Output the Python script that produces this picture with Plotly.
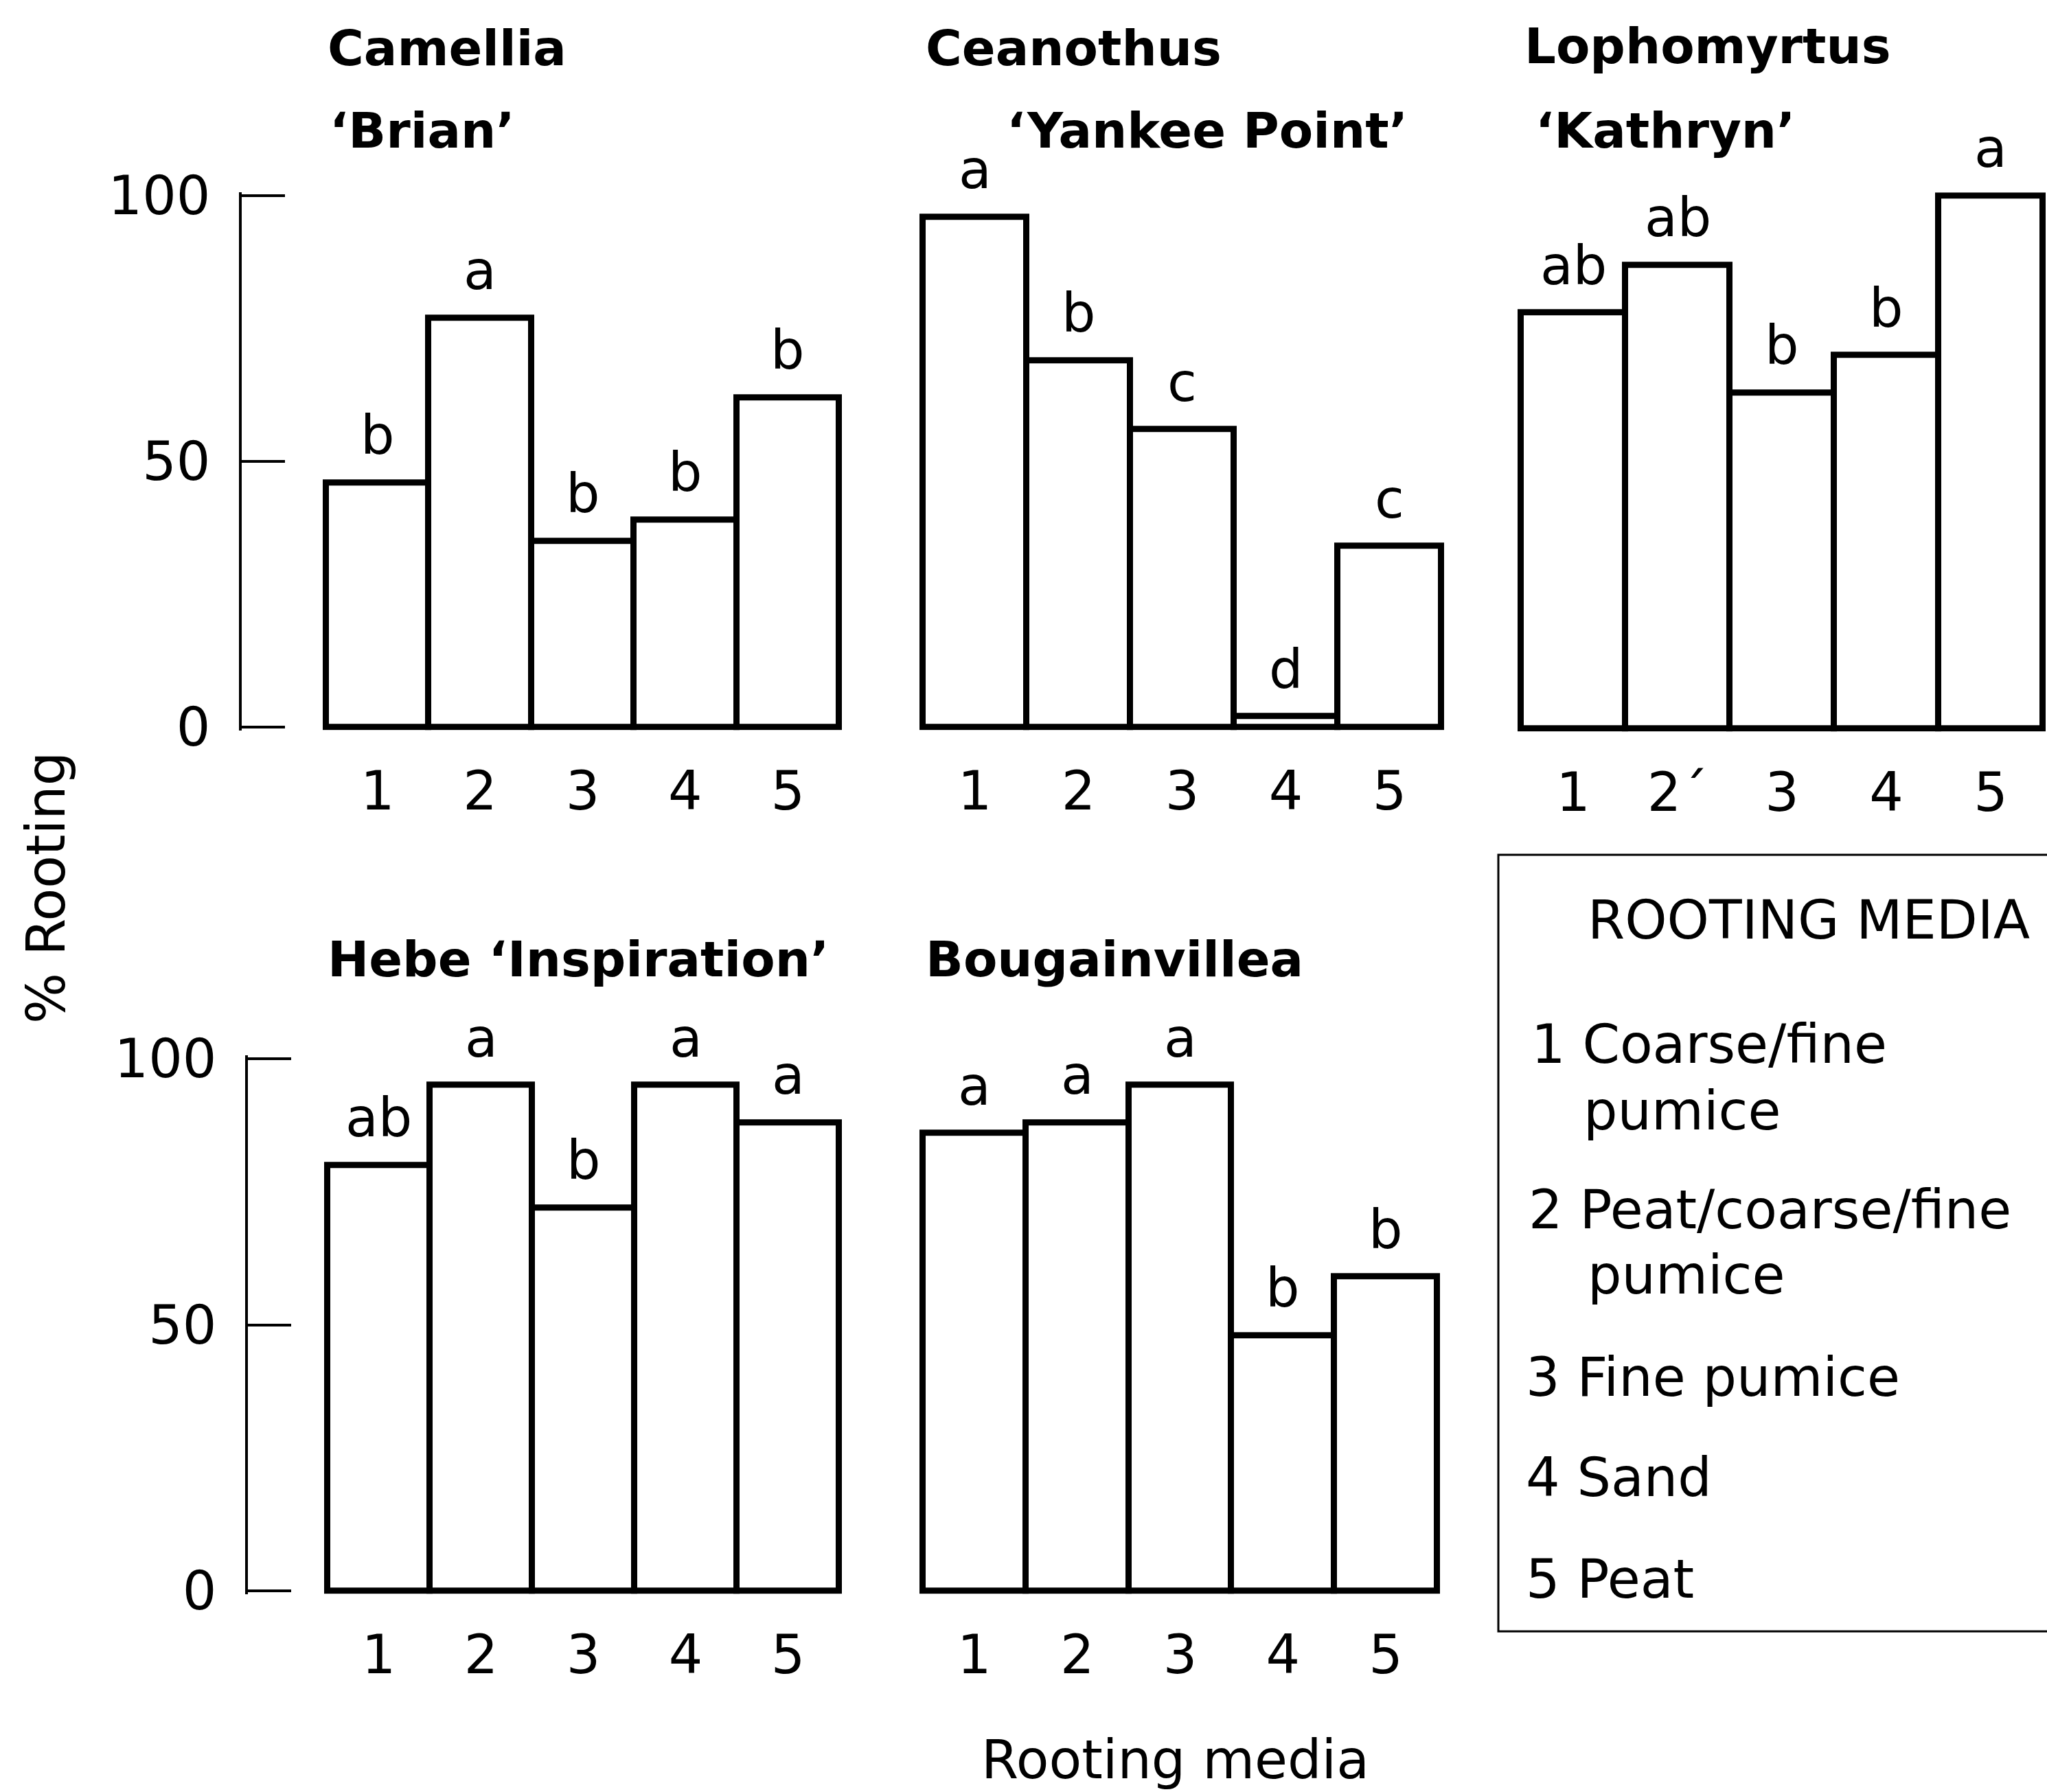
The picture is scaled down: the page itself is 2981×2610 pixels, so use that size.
import plotly.graph_objects as go

# ---------------- data ----------------
media = [1, 2, 3, 4, 5]
tick_text_default = ["1", "2", "3", "4", "5"]
tick_text_lopho = ["1", "2\u00b4", "3", "4", "5"]

camellia = [46, 77, 35, 39, 62]
camellia_sig = ["b", "a", "b", "b", "b"]
ceanothus = [96, 69, 56, 2, 34]
ceanothus_sig = ["a", "b", "c", "d", "c"]
lophomyrtus = [78, 87, 63, 70, 100]
lophomyrtus_sig = ["ab", "ab", "b", "b", "a"]
hebe = [80, 95, 72, 95, 88]
hebe_sig = ["ab", "a", "b", "a", "a"]
bougainvillea = [86, 88, 95, 48, 59]
bougainvillea_sig = ["a", "a", "a", "b", "b"]

titles = [
    ["Camellia", "\u2018Brian\u2019"],
    ["Ceanothus", "\u2018Yankee Point\u2019"],
    ["Lophomyrtus", "\u2018Kathryn\u2019"],
    ["Hebe \u2018Inspiration\u2019"],
    ["Bougainvillea"],
]
legend_title = "ROOTING MEDIA"
legend_lines = ["1 Coarse/fine", "pumice", "2 Peat/coarse/fine", "pumice",
                "3 Fine pumice", "4 Sand", "5 Peat"]
y_ticks = [0, 50, 100]
y_title = "% Rooting"
x_title = "Rooting media"

# ---------------- layout geometry (pixels) ----------------
W, H = 2981, 2610
FONT = "DejaVu Sans"
F_REG = 78
F_BOLD = 72

panels = [
    dict(vals=camellia, sig=camellia_sig, ticks=tick_text_default, left=352, bl=475, bw=149.4, right=1232, base=1059, top=285, yaxis=True),
    dict(vals=ceanothus, sig=ceanothus_sig, ticks=tick_text_default, left=1330, bl=1344, bw=151, right=2110, base=1059, top=285, yaxis=False),
    dict(vals=lophomyrtus, sig=lophomyrtus_sig, ticks=tick_text_lopho, left=2205, bl=2215, bw=152, right=2981, base=1061, top=285, yaxis=False),
    dict(vals=hebe, sig=hebe_sig, ticks=tick_text_default, left=361, bl=477, bw=149, right=1230, base=2317, top=1542, yaxis=True),
    dict(vals=bougainvillea, sig=bougainvillea_sig, ticks=tick_text_default, left=1330, bl=1344, bw=149.8, right=2105, base=2317, top=1542, yaxis=False),
]
title_pos = [
    [(475, 70), (478, 190)],
    [(1346, 70), (1464, 190)],
    [(2218, 67), (2234, 190)],
    [(475, 1397)],
    [(1346, 1397)],
]

fig = go.Figure()
annotations = []
layout = {}
YPAD = 0.6  # small range padding so end ticks are drawn

for i, p in enumerate(panels):
    n = "" if i == 0 else str(i + 1)
    xa, ya = "x" + n, "y" + n
    fig.add_trace(go.Bar(
        x=media, y=p["vals"], width=1.0, xaxis=xa, yaxis=ya,
        marker=dict(color="white", line=dict(color="black", width=9)),
        cliponaxis=False, showlegend=False, hoverinfo="skip",
    ))
    r0 = 0.5 - (p["bl"] - p["left"]) / p["bw"]
    r1 = 0.5 + (p["right"] - p["bl"]) / p["bw"]
    layout["xaxis" + n] = dict(
        domain=[p["left"] / W, p["right"] / W], range=[r0, r1], anchor=ya,
        showline=False, showgrid=False, zeroline=False, ticks="",
        tickmode="array", tickvals=media, ticktext=p["ticks"],
        tickfont=dict(family=FONT, size=F_REG, color="black"),
        ticklabelstandoff=36, fixedrange=True, automargin=False,
    )
    ppu = (p["base"] - p["top"]) / 100.0
    ydict = dict(
        domain=[1 - (p["base"] + YPAD * ppu) / H, 1 - (p["top"] - YPAD * ppu) / H],
        range=[-YPAD, 100 + YPAD], anchor=xa,
        showgrid=False, zeroline=False, fixedrange=True, automargin=False,
    )
    if p["yaxis"]:
        ydict.update(showline=True, linecolor="black", linewidth=4,
                     ticks="inside", ticklen=63, tickwidth=4, tickcolor="black",
                     tickmode="array", tickvals=y_ticks,
                     tickfont=dict(family=FONT, size=F_REG, color="black"),
                     ticklabelstandoff=26)
    else:
        ydict.update(showline=False, showticklabels=False, ticks="")
    layout["yaxis" + n] = ydict

    for k, (v, s) in enumerate(zip(p["vals"], p["sig"])):
        annotations.append(dict(
            x=media[k], y=v, xref=xa, yref=ya, text=s, showarrow=False,
            xanchor="center", yanchor="bottom", yshift=22,
            font=dict(family=FONT, size=F_REG, color="black"),
        ))
    for t, (tx, ty) in zip(titles[i], title_pos[i]):
        annotations.append(dict(
            x=tx / W, y=1 - ty / H, xref="paper", yref="paper", text="<b>" + t + "</b>",
            showarrow=False, xanchor="left", yanchor="middle",
            font=dict(family=FONT, size=F_BOLD, color="black"),
        ))

annotations.append(dict(x=2310 / W, y=1 - 1340 / H, xref="paper", yref="paper",
                        text=legend_title, showarrow=False, xanchor="left", yanchor="middle",
                        font=dict(family=FONT, size=F_REG, color="black")))
legend_pos = [(2228, 1521), (2304, 1618), (2224, 1762), (2310, 1857),
              (2220, 2006), (2220, 2152), (2220, 2300)]
for t, (tx, ty) in zip(legend_lines, legend_pos):
    annotations.append(dict(x=tx / W, y=1 - ty / H, xref="paper", yref="paper",
                            text=t, showarrow=False, xanchor="left", yanchor="middle",
                            font=dict(family=FONT, size=F_REG, color="black")))

annotations.append(dict(x=67 / W, y=1 - 1293 / H, xref="paper", yref="paper",
                        text=y_title, textangle=-90, showarrow=False,
                        xanchor="center", yanchor="middle",
                        font=dict(family=FONT, size=F_REG, color="black")))
annotations.append(dict(x=1711 / W, y=1 - 2563 / H, xref="paper", yref="paper",
                        text=x_title, showarrow=False, xanchor="center", yanchor="middle",
                        font=dict(family=FONT, size=F_REG, color="black")))

shapes = [dict(type="rect", xref="paper", yref="paper",
               x0=2182 / W, x1=1.01, y0=1 - 2376 / H, y1=1 - 1245 / H,
               line=dict(color="black", width=3), fillcolor="rgba(0,0,0,0)")]

fig.update_layout(
    template="none",
    width=W, height=H, margin=dict(l=0, r=0, t=0, b=0, pad=0, autoexpand=False),
    paper_bgcolor="white", plot_bgcolor="white",
    annotations=annotations, shapes=shapes, bargap=0,
    font=dict(family=FONT, color="black"),
    **layout,
)

fig.write_html("out.html")
